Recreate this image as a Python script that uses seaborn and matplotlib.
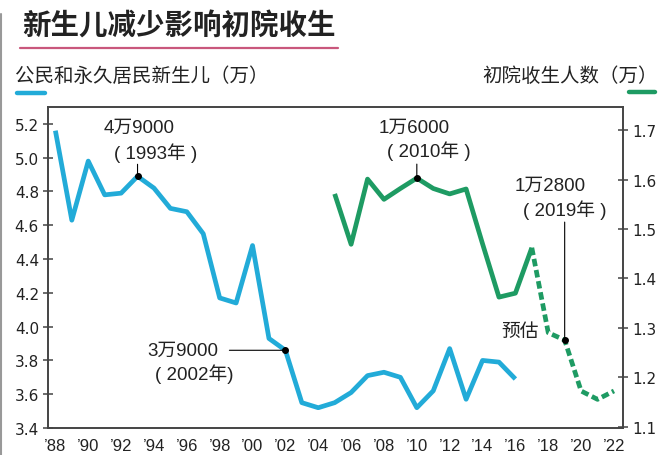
import matplotlib
matplotlib.use("Agg")
import matplotlib.pyplot as plt
from matplotlib.lines import Line2D
from matplotlib.ticker import MultipleLocator, FixedLocator
import seaborn as sns

# 公民和永久居民新生儿（万）
years_birth = list(range(1988, 2017))
births = [5.16, 4.63, 4.98, 4.78, 4.79, 4.89, 4.82, 4.70, 4.68, 4.55,
          4.17, 4.14, 4.48, 3.93, 3.86, 3.55, 3.52, 3.55, 3.61, 3.71,
          3.73, 3.70, 3.52, 3.62, 3.87, 3.57, 3.80, 3.79, 3.69]

# 初院收生人数（万）
years_intake = list(range(2005, 2018))
intake = [1.571, 1.469, 1.601, 1.560, 1.582, 1.603, 1.582, 1.571, 1.581,
          1.470, 1.362, 1.370, 1.462]
years_proj = [2017, 2018, 2019, 2020, 2021, 2022]
intake_proj = [1.462, 1.290, 1.275, 1.172, 1.155, 1.172]

xtick_years = list(range(1988, 2023, 2))
xtick_labels = ["\u2019%02d" % (y % 100) for y in xtick_years]
left_ticks = [3.4, 3.6, 3.8, 4.0, 4.2, 4.4, 4.6, 4.8, 5.0, 5.2]
right_ticks = [1.1, 1.2, 1.3, 1.4, 1.5, 1.6, 1.7]

BLUE = "#22abd8"
GREEN = "#1e9b63"
PINK = "#c9577c"
DARK = "#222222"
SPINE = "#444444"

sns.set_style("white")
plt.rcParams["font.family"] = ["Noto Sans CJK SC", "DejaVu Sans"]
ann_font = ["Liberation Sans", "Noto Sans CJK SC"]

W, H = 659, 456
fig = plt.figure(figsize=(W / 100, H / 100), dpi=100)


def fx(x):
    return x / W


def fy(y):
    return 1 - y / H


ax = fig.add_axes([fx(48), fy(429), fx(623 - 48), (429 - 108) / H])
ax2 = ax.twinx()

sns.lineplot(x=years_birth, y=births, ax=ax, color=BLUE, linewidth=3.4,
             solid_joinstyle="round", solid_capstyle="butt")
sns.lineplot(x=years_intake, y=intake, ax=ax2, color=GREEN, linewidth=3.4,
             solid_joinstyle="round", solid_capstyle="butt")
sns.lineplot(x=years_proj, y=intake_proj, ax=ax2, color=GREEN, linewidth=3.4,
             linestyle=(0, (1.6, 0.8)), dash_capstyle="butt",
             dash_joinstyle="round")

ax.set_xlim(1987.55, 2022.55)
ax.set_ylim(3.4, 5.30)
ax2.set_ylim(1.097, 1.747)

ax.set_yticks(left_ticks)
ax.set_yticklabels(["%.1f" % v for v in left_ticks])
ax2.set_yticks(right_ticks)
ax2.set_yticklabels(["%.1f" % v for v in right_ticks])
ax.xaxis.set_major_locator(FixedLocator(xtick_years))
ax.set_xticklabels(xtick_labels)
ax.xaxis.set_minor_locator(MultipleLocator(1))

for a in (ax, ax2):
    for s in a.spines.values():
        s.set_color(SPINE)
        s.set_linewidth(1.2)
ax.tick_params(axis="y", direction="inout", length=7, width=1.1, color=SPINE,
               pad=3, labelsize=11, labelcolor=DARK)
ax2.tick_params(axis="y", direction="inout", length=7, width=1.1, color=SPINE,
                pad=3, labelsize=11, labelcolor=DARK)
ax.tick_params(axis="x", which="both", direction="in", length=4, width=1.1,
               color=SPINE, pad=7, labelcolor=DARK)
for lab in ax.get_yticklabels() + ax2.get_yticklabels():
    lab.set_fontfamily("DejaVu Sans")
for lab in ax.get_xticklabels():
    lab.set_fontfamily(["Liberation Sans Narrow", "Liberation Sans"])
    lab.set_fontsize(12)
ax.set_xlabel("")
ax.set_ylabel("")
ax2.set_ylabel("")

# annotations
i93 = years_birth.index(1993)
i02 = years_birth.index(2002)
i10 = years_intake.index(2010)
i19 = years_proj.index(2019)
p93 = (1993, births[i93])
p02 = (2002, births[i02])
p10 = (2010, intake[i10])
p19 = (2019, intake_proj[i19])

ax.plot(*p93, "o", color="black", markersize=4, zorder=5)
ax.plot(*p02, "o", color="black", markersize=4, zorder=5)
ax2.plot(*p10, "o", color="black", markersize=4, zorder=5)
ax2.plot(*p19, "o", color="black", markersize=4, zorder=5)

line_kw = dict(arrowstyle="-", color="black", lw=0.8, shrinkA=0, shrinkB=0)
txt_kw = dict(textcoords="offset pixels", ha="center", va="center",
              fontsize=13.5, color=DARK, family=ann_font)


def note(a, pt, lines, leader):
    for text, off in lines:
        a.annotate(text, xy=pt, xytext=off, **txt_kw)
    a.annotate("", xy=pt, xytext=leader, textcoords="offset pixels",
               arrowprops=line_kw)


note(ax, p93, [("4万9000", (2, 49)), ("( 1993年 )", (18, 24))], (0, 12))
note(ax2, p10, [("1万6000", (-3, 51)), ("( 2010年 )", (12, 28))], (0, 14))
note(ax2, p19, [("1万2800", (-14, 155)), ("( 2019年 )", (0, 131))], (0, 118))
note(ax, p02, [("3万9000", (-103, 0)), ("( 2002年)", (-91, -23))], (-56, 0))

ax2.text(2016.3, 1.295, "预估", ha="center", va="center", fontsize=13.5,
         color=DARK)

# header
fig.text(fx(22), fy(27), "新生儿减少影响初院收生", fontsize=20.5,
         fontweight="bold", color=DARK, ha="left", va="center")
fig.add_artist(Line2D([fx(20), fx(338)], [fy(49), fy(49)], color=PINK,
                      lw=1.6, transform=fig.transFigure))
fig.text(fx(15), fy(76), "公民和永久居民新生儿（万）", fontsize=14,
         color=DARK, ha="left", va="center")
fig.text(fx(658), fy(76), "初院收生人数（万）", fontsize=14,
         color=DARK, ha="right", va="center")
fig.add_artist(Line2D([fx(17), fx(45)], [fy(94), fy(94)], color=BLUE,
                      lw=3.2, solid_capstyle="round",
                      transform=fig.transFigure))
fig.add_artist(Line2D([fx(629), fx(655)], [fy(93), fy(93)], color=GREEN,
                      lw=3.2, solid_capstyle="round",
                      transform=fig.transFigure))
fig.add_artist(Line2D([fx(1), fx(1)], [fy(15), 0], color="#999999",
                      lw=1.5, transform=fig.transFigure))

fig.savefig("out.png", dpi=100)
